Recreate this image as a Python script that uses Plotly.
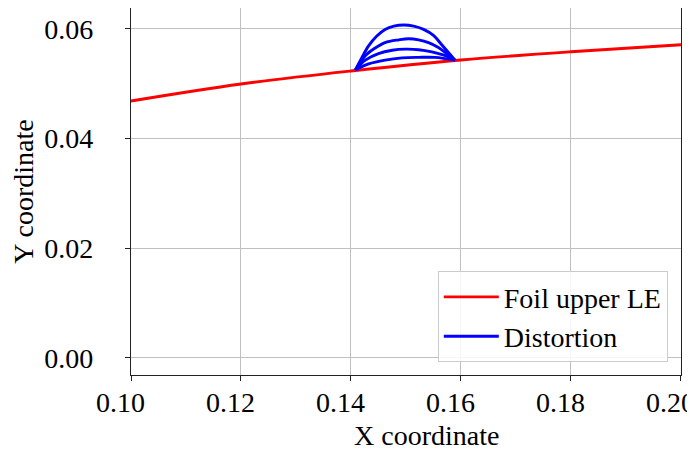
import plotly.graph_objects as go

# Foil upper leading-edge surface
foil_x = [0.10, 0.12, 0.14, 0.16, 0.18, 0.20]
foil_y = [0.04685, 0.04995, 0.05231, 0.05431, 0.05582, 0.05709]

# Distortion curves
d1_x = [0.1408, 0.1420, 0.1432, 0.1447, 0.1462, 0.1478, 0.1496, 0.1514, 0.1532, 0.1550, 0.1565, 0.1578, 0.1589]
d1_y = [0.0525, 0.0548, 0.0569, 0.0587, 0.0599, 0.0605, 0.0607, 0.0605, 0.0599, 0.0588, 0.0571, 0.0556, 0.0543]

d2_x = [0.1408, 0.1426, 0.1444, 0.1462, 0.1487, 0.1505, 0.1523, 0.1541, 0.1559, 0.1575, 0.1589]
d2_y = [0.0525, 0.0551, 0.0565, 0.0575, 0.0580, 0.0582, 0.0580, 0.0575, 0.0566, 0.0554, 0.0543]

d3_x = [0.1408, 0.1426, 0.1450, 0.1475, 0.1499, 0.1523, 0.1547, 0.1569, 0.1589]
d3_y = [0.0525, 0.0543, 0.0555, 0.0561, 0.0563, 0.0562, 0.0558, 0.0552, 0.0543]

d4_x = [0.1408, 0.1432, 0.1462, 0.1493, 0.1523, 0.1553, 0.1589]
d4_y = [0.0525, 0.0536, 0.0543, 0.0547, 0.0548, 0.0548, 0.0543]

x_ticks = [0.10, 0.12, 0.14, 0.16, 0.18, 0.20]
x_ticklabels = ["0.10", "0.12", "0.14", "0.16", "0.18", "0.20"]
y_ticks = [0.00, 0.02, 0.04, 0.06]
y_ticklabels = ["0.00", "0.02", "0.04", "0.06"]

FONT = "'Liberation Serif', 'Times New Roman', 'DejaVu Serif', serif"
FS = 28
PAD = "\u2002\u00a0"  # reference labels sit a little left of their ticks

fig = go.Figure()
fig.add_trace(go.Scatter(x=foil_x, y=foil_y, mode="lines", name="Foil upper LE",
                         line=dict(color="#ff0000", width=2.9, shape="spline"),
                         legendgroup="a"))
curves = [(d1_x, d1_y), (d2_x, d2_y), (d3_x, d3_y), (d4_x, d4_y)]
for i, (cx, cy) in enumerate(curves):
    fig.add_trace(go.Scatter(x=cx, y=cy, mode="lines", name="Distortion",
                             line=dict(color="#0000ff", width=2.9, shape="spline", smoothing=1.0),
                             showlegend=(i == 0), legendgroup="b"))

axis_common = dict(showline=True, linecolor="#222222", linewidth=1.2, mirror=True,
                   ticks="outside", ticklen=5, tickcolor="#222222", tickwidth=1.2,
                   showgrid=True, gridcolor="#c0c0c0", gridwidth=1, zeroline=False,
                   ticklabeloverflow="allow", automargin=False,
                   tickfont=dict(family=FONT, size=FS, color="#000000"))

# page body has an 8px margin, so the figure is drawn 8px smaller and starts at (8, 8)
fig.update_layout(
    width=687, height=442,
    margin=dict(l=123, r=14, t=0, b=75),
    paper_bgcolor="white", plot_bgcolor="white",
    font=dict(family=FONT, size=FS, color="#000000"),
    xaxis=dict(range=[0.10, 0.20001], tickvals=x_ticks,
               ticktext=[t + PAD for t in x_ticklabels],
               ticklabelstandoff=-3, **axis_common),
    yaxis=dict(range=[-0.0031, 0.0638], tickvals=y_ticks, ticktext=y_ticklabels,
               title=dict(text="Y coordinate", font=dict(family=FONT, size=FS), standoff=15),
               ticklabelstandoff=26, **axis_common),
    legend=dict(x=0.976, y=0.035, xanchor="right", yanchor="bottom",
                bgcolor="rgba(255,255,255,0.85)", bordercolor="#cccccc", borderwidth=1,
                font=dict(family=FONT, size=28), tracegroupgap=0,
                itemwidth=55),
)
fig.add_annotation(text="X coordinate", xref="paper", yref="paper",
                   x=0.5, y=-0.166, xanchor="center", yanchor="middle",
                   xshift=20, showarrow=False, font=dict(family=FONT, size=FS))

fig.write_html("out.html")
